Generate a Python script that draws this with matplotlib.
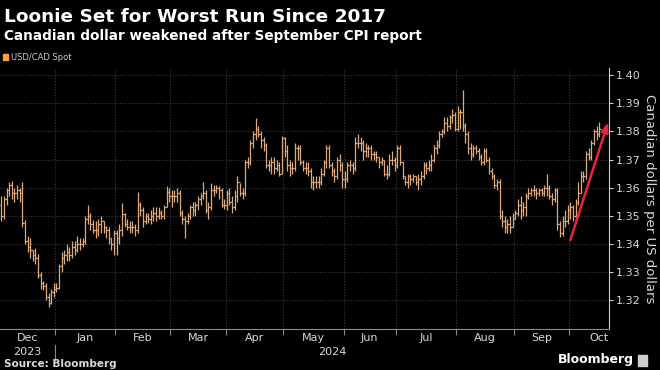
import numpy as np
import pandas as pd
import matplotlib
matplotlib.use("Agg")
import matplotlib.pyplot as plt
from matplotlib.patches import Rectangle
from matplotlib.transforms import blended_transform_factory

title = "Loonie Set for Worst Run Since 2017"
subtitle = "Canadian dollar weakened after September CPI report"
series_name = "USD/CAD Spot"
y_label = "Canadian dollars per US dollars"
source = "Source: Bloomberg"

start_date = "2023-12-01"
first_open = 1.3540

# daily USD/CAD bars, one line per month (Dec 2023 .. Oct 16 2024)
close = [
    1.3500, 1.3560, 1.3590, 1.3610, 1.3580, 1.3580, 1.3590, 1.3580, 1.3475, 1.3410, 1.3390, 1.3380, 1.3360, 1.3350, 1.3290, 1.3260, 1.3250, 1.3210, 1.3190, 1.3230, 1.3240,
    1.3245, 1.3320, 1.3350, 1.3360, 1.3370, 1.3360, 1.3390, 1.3380, 1.3400, 1.3400, 1.3410, 1.3490, 1.3500, 1.3470, 1.3450, 1.3450, 1.3470, 1.3480, 1.3460, 1.3450, 1.3420, 1.3400, 1.3440,
    1.3420, 1.3450, 1.3505, 1.3470, 1.3460, 1.3460, 1.3460, 1.3450, 1.3540, 1.3520, 1.3480, 1.3500, 1.3490, 1.3500, 1.3510, 1.3500, 1.3510, 1.3500, 1.3530, 1.3585, 1.3570,
    1.3570, 1.3570, 1.3580, 1.3510, 1.3490, 1.3480, 1.3500, 1.3530, 1.3520, 1.3540, 1.3560, 1.3570, 1.3580, 1.3520, 1.3530, 1.3590, 1.3590, 1.3600, 1.3590, 1.3540, 1.3540,
    1.3580, 1.3550, 1.3530, 1.3570, 1.3620, 1.3580, 1.3580, 1.3690, 1.3690, 1.3760, 1.3790, 1.3810, 1.3790, 1.3770, 1.3750, 1.3680, 1.3680, 1.3690, 1.3670, 1.3680, 1.3650, 1.3775,
    1.3730, 1.3680, 1.3670, 1.3670, 1.3740, 1.3740, 1.3690, 1.3670, 1.3670, 1.3660, 1.3620, 1.3620, 1.3620, 1.3620, 1.3650, 1.3690, 1.3740, 1.3680, 1.3660, 1.3640, 1.3700, 1.3680, 1.3630,
    1.3630, 1.3680, 1.3680, 1.3670, 1.3760, 1.3760, 1.3760, 1.3730, 1.3740, 1.3740, 1.3720, 1.3720, 1.3710, 1.3690, 1.3700, 1.3650, 1.3650, 1.3700, 1.3700, 1.3680,
    1.3740, 1.3690, 1.3640, 1.3620, 1.3640, 1.3630, 1.3640, 1.3620, 1.3630, 1.3640, 1.3680, 1.3670, 1.3680, 1.3700, 1.3740, 1.3750, 1.3790, 1.3800, 1.3830, 1.3820, 1.3850, 1.3860, 1.3810,
    1.3870, 1.3870, 1.3820, 1.3790, 1.3740, 1.3720, 1.3740, 1.3730, 1.3710, 1.3690, 1.3730, 1.3700, 1.3660, 1.3640, 1.3610, 1.3620, 1.3500, 1.3480, 1.3460, 1.3470, 1.3460, 1.3490,
    1.3510, 1.3540, 1.3520, 1.3530, 1.3570, 1.3580, 1.3590, 1.3590, 1.3580, 1.3590, 1.3580, 1.3600, 1.3600, 1.3570, 1.3560, 1.3590, 1.3470, 1.3440, 1.3480, 1.3480, 1.3520,
    1.3530, 1.3500, 1.3550, 1.3580, 1.3640, 1.3640, 1.3720, 1.3710, 1.3760, 1.3800, 1.3790, 1.3810,
]
high = [
    1.3570, 1.3570, 1.3600, 1.3620, 1.3625, 1.3600, 1.3610, 1.3600, 1.3620, 1.3485, 1.3430, 1.3420, 1.3380, 1.3385, 1.3365, 1.3300, 1.3270, 1.3260, 1.3225, 1.3240, 1.3260,
    1.3260, 1.3330, 1.3370, 1.3380, 1.3400, 1.3390, 1.3410, 1.3410, 1.3430, 1.3420, 1.3420, 1.3500, 1.3540, 1.3510, 1.3485, 1.3480, 1.3490, 1.3500, 1.3480, 1.3465, 1.3460, 1.3420, 1.3450,
    1.3450, 1.3470, 1.3545, 1.3510, 1.3490, 1.3480, 1.3480, 1.3470, 1.3585, 1.3550, 1.3530, 1.3510, 1.3510, 1.3520, 1.3530, 1.3530, 1.3530, 1.3520, 1.3540, 1.3605, 1.3600,
    1.3590, 1.3590, 1.3600, 1.3590, 1.3520, 1.3500, 1.3510, 1.3540, 1.3550, 1.3550, 1.3570, 1.3580, 1.3620, 1.3590, 1.3550, 1.3615, 1.3610, 1.3610, 1.3605, 1.3600, 1.3560,
    1.3590, 1.3600, 1.3570, 1.3590, 1.3640, 1.3615, 1.3600, 1.3700, 1.3710, 1.3770, 1.3800, 1.3846, 1.3820, 1.3800, 1.3780, 1.3760, 1.3700, 1.3710, 1.3710, 1.3700, 1.3690, 1.3785,
    1.3780, 1.3750, 1.3700, 1.3690, 1.3760, 1.3750, 1.3750, 1.3700, 1.3690, 1.3690, 1.3670, 1.3640, 1.3640, 1.3640, 1.3670, 1.3700, 1.3750, 1.3750, 1.3690, 1.3670, 1.3710, 1.3720, 1.3690,
    1.3660, 1.3690, 1.3700, 1.3690, 1.3780, 1.3790, 1.3780, 1.3770, 1.3760, 1.3750, 1.3750, 1.3730, 1.3730, 1.3710, 1.3710, 1.3700, 1.3680, 1.3720, 1.3730, 1.3710,
    1.3750, 1.3750, 1.3690, 1.3640, 1.3650, 1.3650, 1.3650, 1.3640, 1.3650, 1.3660, 1.3690, 1.3690, 1.3700, 1.3720, 1.3750, 1.3770, 1.3800, 1.3810, 1.3850, 1.3850, 1.3860, 1.3880, 1.3870,
    1.3890, 1.3880, 1.3946, 1.3830, 1.3800, 1.3760, 1.3750, 1.3750, 1.3740, 1.3720, 1.3740, 1.3740, 1.3710, 1.3670, 1.3650, 1.3630, 1.3630, 1.3520, 1.3500, 1.3490, 1.3500, 1.3510,
    1.3520, 1.3560, 1.3570, 1.3550, 1.3580, 1.3600, 1.3600, 1.3610, 1.3600, 1.3600, 1.3600, 1.3610, 1.3650, 1.3610, 1.3580, 1.3600, 1.3600, 1.3480, 1.3500, 1.3520, 1.3540,
    1.3550, 1.3540, 1.3560, 1.3620, 1.3660, 1.3660, 1.3730, 1.3740, 1.3770, 1.3810, 1.3820, 1.3835,
]
low = [
    1.3480, 1.3490, 1.3540, 1.3570, 1.3560, 1.3550, 1.3560, 1.3550, 1.3460, 1.3400, 1.3370, 1.3350, 1.3340, 1.3330, 1.3280, 1.3240, 1.3235, 1.3200, 1.3177, 1.3185, 1.3210,
    1.3230, 1.3240, 1.3300, 1.3330, 1.3340, 1.3340, 1.3350, 1.3360, 1.3370, 1.3380, 1.3390, 1.3400, 1.3470, 1.3450, 1.3440, 1.3420, 1.3430, 1.3440, 1.3440, 1.3420, 1.3400, 1.3380, 1.3360,
    1.3360, 1.3400, 1.3430, 1.3460, 1.3450, 1.3440, 1.3440, 1.3430, 1.3440, 1.3500, 1.3460, 1.3470, 1.3475, 1.3470, 1.3480, 1.3480, 1.3490, 1.3490, 1.3490, 1.3530, 1.3550,
    1.3530, 1.3550, 1.3550, 1.3500, 1.3470, 1.3420, 1.3470, 1.3490, 1.3500, 1.3500, 1.3520, 1.3540, 1.3560, 1.3510, 1.3490, 1.3520, 1.3570, 1.3580, 1.3560, 1.3530, 1.3525,
    1.3520, 1.3540, 1.3510, 1.3520, 1.3550, 1.3570, 1.3560, 1.3570, 1.3670, 1.3680, 1.3740, 1.3770, 1.3780, 1.3740, 1.3730, 1.3670, 1.3660, 1.3650, 1.3650, 1.3660, 1.3640, 1.3650,
    1.3710, 1.3660, 1.3640, 1.3650, 1.3660, 1.3700, 1.3680, 1.3660, 1.3650, 1.3640, 1.3600, 1.3590, 1.3600, 1.3600, 1.3610, 1.3640, 1.3670, 1.3670, 1.3640, 1.3620, 1.3630, 1.3660, 1.3600,
    1.3600, 1.3620, 1.3660, 1.3650, 1.3660, 1.3740, 1.3730, 1.3700, 1.3710, 1.3710, 1.3700, 1.3700, 1.3690, 1.3670, 1.3680, 1.3640, 1.3630, 1.3640, 1.3680, 1.3660,
    1.3670, 1.3680, 1.3630, 1.3610, 1.3600, 1.3610, 1.3620, 1.3610, 1.3590, 1.3610, 1.3630, 1.3650, 1.3660, 1.3660, 1.3690, 1.3720, 1.3740, 1.3780, 1.3790, 1.3800, 1.3810, 1.3830, 1.3800,
    1.3800, 1.3810, 1.3800, 1.3760, 1.3720, 1.3700, 1.3710, 1.3720, 1.3700, 1.3680, 1.3680, 1.3690, 1.3650, 1.3630, 1.3600, 1.3590, 1.3490, 1.3460, 1.3440, 1.3440, 1.3440, 1.3460,
    1.3490, 1.3500, 1.3490, 1.3500, 1.3500, 1.3560, 1.3570, 1.3570, 1.3560, 1.3570, 1.3570, 1.3570, 1.3570, 1.3560, 1.3540, 1.3550, 1.3450, 1.3425, 1.3430, 1.3460, 1.3470,
    1.3490, 1.3480, 1.3490, 1.3540, 1.3580, 1.3620, 1.3630, 1.3700, 1.3700, 1.3750, 1.3770, 1.3780,
]

y_ticks = [1.32, 1.33, 1.34, 1.35, 1.36, 1.37, 1.38, 1.39, 1.40]
month_labels = ["Dec", "Jan", "Feb", "Mar", "Apr", "May", "Jun", "Jul", "Aug", "Sep", "Oct"]
year_labels = ["2023", "2024"]

# red arrow drawn over the October rally
arrow_from = ("2024-10-01", 1.3414)
arrow_to = ("2024-10-21", 1.3833)

bg = "black"
bar_color = "#e0ab7c"
grid_color = "#3c3c3c"
text_color = "#d9d9d9"

close = np.array(close)
high = np.array(high)
low = np.array(low)
n = len(close)
dates = pd.bdate_range(start_date, periods=n)
opens = np.r_[first_open, close[:-1]]
x = np.arange(n)


def pos(d):
    return len(pd.bdate_range(start_date, d)) - 1


fig = plt.figure(figsize=(6.6, 3.7), dpi=100, facecolor=bg)
ax = fig.add_axes([0.0, 0.111, 0.923, 0.705])
ax.set_facecolor(bg)

x_right = 231.8
ax.set_xlim(-0.5, x_right)
ax.set_ylim(1.3098, 1.4025)

# month boundaries (trading-day axis)
month_start = [i for i in range(1, n) if dates[i].month != dates[i - 1].month]
for b in month_start:
    ax.axvline(b - 0.5, color=grid_color, lw=0.8, ls=(0, (1, 1.5)), zorder=0)
for yv in y_ticks:
    ax.axhline(yv, color=grid_color, lw=0.8, ls=(0, (1, 1.5)), zorder=0)

# OHLC bars
ax.vlines(x, low, high, color=bar_color, lw=0.9, zorder=2)
ax.hlines(opens, x - 0.5, x, color=bar_color, lw=0.9, zorder=2)
ax.hlines(close, x, x + 0.5, color=bar_color, lw=0.9, zorder=2)

ax.annotate("", xy=(pos(arrow_to[0]) + 0.4, arrow_to[1]),
            xytext=(pos(arrow_from[0]), arrow_from[1]),
            arrowprops=dict(arrowstyle="-|>,head_length=0.55,head_width=0.2",
                            color="#e8233f", lw=1.8, shrinkA=0, shrinkB=0),
            annotation_clip=False, zorder=5)

# spines and y axis on the right
for s in ["top", "left"]:
    ax.spines[s].set_visible(False)
ax.spines["right"].set_color("#cfcfcf")
ax.spines["bottom"].set_color("#8a8a8a")
ax.yaxis.tick_right()
ax.set_yticks(y_ticks)
ax.set_yticklabels([f"{v:.2f}" for v in y_ticks])
ax.tick_params(axis="y", colors="#cfcfcf", labelcolor=text_color, labelsize=8,
               length=3, width=0.8, pad=2)
ax.yaxis.set_label_position("right")
ax.set_ylabel(y_label, rotation=270, color=text_color, fontsize=9.5, labelpad=11)

# x axis: ticks at month boundaries, labels centred on full months
ax.set_xticks([b - 0.5 for b in month_start])
ax.set_xticklabels([])
ax.tick_params(axis="x", colors="#8a8a8a", length=4, width=0.8)

tr = blended_transform_factory(ax.transData, ax.transAxes)
starts = [0] + month_start
for lbl, s in zip(month_labels, starts):
    d = dates[s]
    full = pd.bdate_range(d.replace(day=1), d + pd.offsets.MonthEnd(0))
    first = s - len(pd.bdate_range(d.replace(day=1), d)) + 1
    cx = first - 0.5 + len(full) / 2
    ax.text(cx, -0.034, lbl, transform=tr, ha="center", va="center",
            color=text_color, fontsize=8)

jan = month_start[0]
ax.text(10.0, -0.088, year_labels[0], transform=tr, ha="center", va="center",
        color=text_color, fontsize=8)
ax.text((jan - 0.5 + x_right) / 2, -0.088, year_labels[1], transform=tr,
        ha="center", va="center", color=text_color, fontsize=8)
ax.plot([jan - 0.5, jan - 0.5], [-0.062, -0.118], transform=tr, color="#8a8a8a",
        lw=0.8, clip_on=False)

# titles, legend, footer
fig.text(0.006, 1 - 17 / 370, title, color="white", fontsize=13.3,
         fontweight="bold", va="center")
fig.text(0.006, 1 - 36 / 370, subtitle, color="white", fontsize=9.8,
         fontweight="bold", va="center")
fig.patches.append(Rectangle((3 / 660, 1 - 60 / 370), 5 / 660, 6 / 370,
                             transform=fig.transFigure, color="#f2a23a"))
fig.text(11 / 660, 1 - 57 / 370, series_name, color="#cccccc", fontsize=6,
         va="center")
fig.text(0.006, 1 - 364 / 370, source, color=text_color, fontsize=7.5,
         fontweight="bold", va="center")
fig.text(634 / 660, 1 - 360 / 370, "Bloomberg", color="white", fontsize=9,
         fontweight="bold", va="center", ha="right")
fig.patches.append(Rectangle((638 / 660, 1 - 366 / 370), 9 / 660, 11 / 370,
                             transform=fig.transFigure, color="#cfcfcf"))

fig.savefig("out.png", dpi=100, facecolor=bg)
